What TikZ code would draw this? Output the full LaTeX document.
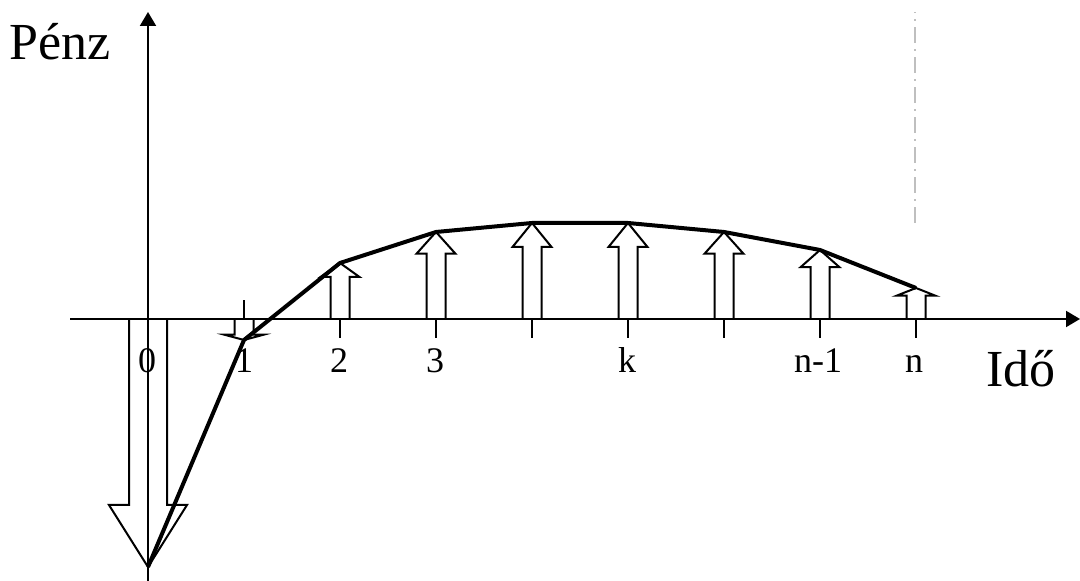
\documentclass[tikz,border=0pt]{standalone}
\usepackage{fontspec}
\setmainfont{Liberation Serif}
\usetikzlibrary{arrows.meta}

\begin{document}
\begin{tikzpicture}[
x=0.5pt, y=0.5pt,
tengely/.style={line width=1pt, -{Triangle[length=7pt, width=8pt]}},
nyil/.style={line width=1pt, line join=miter},
gorbe/.style={line width=2pt, line join=round},
osztas/.style={line width=1pt},
szaggatott/.style={black!25, line width=1pt, dash pattern=on 8pt off 3pt on 1pt off 3pt},
felirat/.style={font=\fontsize{18}{18}\selectfont, anchor=base, inner sep=0pt},
cim/.style={font=\fontsize{26}{26}\selectfont, anchor=base, inner sep=0pt}
]
\useasboundingbox (-148,-262) rectangle (932,319);
\coordinate (xbal) at (-78,0);
\coordinate (xjobb) at (932,0);
\coordinate (ylent) at (0,-262);
\coordinate (yfent) at (0,307);
\draw[tengely] (xbal) -- (xjobb);
\draw[tengely] (ylent) -- (yfent);

% osztasok
\draw[osztas] (96,0) -- (96,19);
\foreach \i in {2,...,8} \draw[osztas] (\i*96,0) -- (\i*96,-19);

% penzaramlasok: hely / magassag / szelesseg
\foreach \x/\h/\w [count=\i from 0] in {0/-248/2, 96/-21/1, 192/56/1, 288/87/1, 384/96/1, 480/96/1, 576/87/1, 672/69/1, 768/31/1} {
  \pgfmathsetmacro\fej{0.75*\h}
  \coordinate (p\i) at (\x,\h);
  \draw[nyil] (\x-9.5*\w,0) |- (\x-19.5*\w,\fej) -- (p\i) -- (\x+19.5*\w,\fej) -| (\x+9.5*\w,0);
}
\draw[gorbe] (p0) -- (p1) -- (p2) -- (p3) -- (p4) -- (p5) -- (p6) -- (p7) -- (p8);

\coordinate (slent) at (767,96);
\coordinate (sfent) at (767,307);
\draw[szaggatott] (slent) -- (sfent);

\node[felirat] (c0) at (-1,-54) {0};
\node[felirat] (c1) at (96,-54) {1};
\node[felirat] (c2) at (191,-54) {2};
\node[felirat] (c3) at (287,-54) {3};
\node[felirat] (ck) at (479,-54) {k};
\node[felirat] (cn1) at (670,-54) {n-1};
\node[felirat] (cn) at (766,-54) {n};
\node[cim] (penz) at (-88,259) {Pénz};
\node[cim] (ido) at (873,-68) {Idő};
\end{tikzpicture}
\end{document}
